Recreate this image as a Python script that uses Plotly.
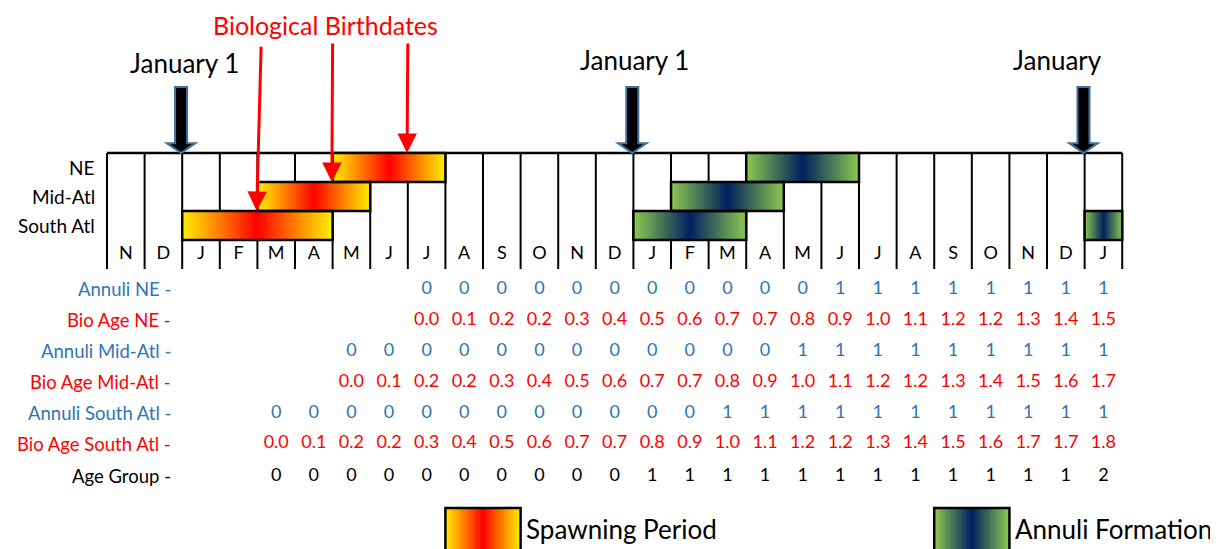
import numpy as np
import plotly.graph_objects as go

# month columns, one per cell of the timeline
months = ['N', 'D', 'J', 'F', 'M', 'A', 'M', 'J', 'J', 'A', 'S', 'O', 'N', 'D',
          'J', 'F', 'M', 'A', 'M', 'J', 'J', 'A', 'S', 'O', 'N', 'D', 'J']
regions = ['NE', 'Mid-Atl', 'South Atl']

# bars: (row, first column, column after last)
spawn_bars = [(0, 6, 9), (1, 4, 7), (2, 2, 6)]
annuli_bars = [(0, 17, 20), (1, 15, 18), (2, 14, 17), (2, 26, 27)]

january_cols = [2, 14, 26]
january_labels = ['January 1', 'January 1', 'January']
# biological birthdates: column of the arrow tip and row it points to
birth_cols = [4, 6, 8]
birth_rows = [2, 1, 0]

# table below the timeline
annuli_ne = [0, 0, 0, 0, 0, 0, 0, 0, 0, 0, 0, 1, 1, 1, 1, 1, 1, 1, 1]
bio_ne = [0.0, 0.1, 0.2, 0.2, 0.3, 0.4, 0.5, 0.6, 0.7, 0.7, 0.8, 0.9, 1.0, 1.1,
          1.2, 1.2, 1.3, 1.4, 1.5]
annuli_mid = [0, 0, 0, 0, 0, 0, 0, 0, 0, 0, 0, 0, 1, 1, 1, 1, 1, 1, 1, 1, 1]
bio_mid = [0.0, 0.1, 0.2, 0.2, 0.3, 0.4, 0.5, 0.6, 0.7, 0.7, 0.8, 0.9, 1.0, 1.1,
           1.2, 1.2, 1.3, 1.4, 1.5, 1.6, 1.7]
annuli_south = [0, 0, 0, 0, 0, 0, 0, 0, 0, 0, 0, 0, 1, 1, 1, 1, 1, 1, 1, 1, 1, 1, 1]
bio_south = [0.0, 0.1, 0.2, 0.2, 0.3, 0.4, 0.5, 0.6, 0.7, 0.7, 0.8, 0.9, 1.0, 1.1,
             1.2, 1.2, 1.3, 1.4, 1.5, 1.6, 1.7, 1.7, 1.8]
age_group = [0, 0, 0, 0, 0, 0, 0, 0, 0, 0, 1, 1, 1, 1, 1, 1, 1, 1, 1, 1, 1, 1, 2]

BLUE = '#2E75B6'
RED = '#FF0000'
FONT = 'Lato'

table = [
    ('Annuli NE -', BLUE, 8, [str(v) for v in annuli_ne]),
    ('Bio Age NE -', RED, 8, [f'{v:.1f}' for v in bio_ne]),
    ('Annuli Mid-Atl -', BLUE, 6, [str(v) for v in annuli_mid]),
    ('Bio Age Mid-Atl -', RED, 6, [f'{v:.1f}' for v in bio_mid]),
    ('Annuli South Atl -', BLUE, 4, [str(v) for v in annuli_south]),
    ('Bio Age South Atl -', RED, 4, [f'{v:.1f}' for v in bio_south]),
    ('Age Group -', 'black', 4, [str(v) for v in age_group]),
]
table_y = [4.69, 5.76, 6.83, 7.90, 8.97, 10.03, 11.14]

spawn_scale = [[0, '#FF0000'], [0.5, '#FF7A00'], [1, '#FFEE00']]
annuli_scale = [[0, '#002060'], [1, '#8CC850']]

fig = go.Figure()


def gradient(x0, x1, y0, y1, scale):
    n = 80
    xs = np.linspace(x0, x1, n + 1)
    z = [np.abs(np.linspace(-1, 1, n))]
    fig.add_trace(go.Heatmap(x=xs, y=[y0, y1], z=z, colorscale=scale, zmin=0, zmax=1,
                             showscale=False, hoverinfo='skip'))
    fig.add_shape(type='rect', x0=x0, x1=x1, y0=y0, y1=y1, layer='above',
                  line=dict(color='black', width=2.5))


for row, c0, c1 in spawn_bars:
    gradient(c0, c1, row, row + 1, spawn_scale)
for row, c0, c1 in annuli_bars:
    gradient(c0, c1, row, row + 1, annuli_scale)

# legend swatches
gradient(9, 11, 12.24, 14.5, spawn_scale)
gradient(22, 24, 12.24, 14.5, annuli_scale)

# grid of the timeline
for b in range(len(months) + 1):
    fig.add_shape(type='line', x0=b, x1=b, y0=0, y1=4, layer='below',
                  line=dict(color='black', width=2))
fig.add_shape(type='line', x0=0, x1=len(months), y0=0, y1=0, layer='below',
              line=dict(color='black', width=2.5))

# month letters
fig.add_trace(go.Scatter(x=[i + 0.5 for i in range(len(months))], y=[3.5] * len(months),
                         mode='text', text=months, hoverinfo='skip',
                         textfont=dict(family=FONT, size=18, color='black')))

for i, r in enumerate(regions):
    fig.add_annotation(x=-0.27, y=i + 0.5, text=r, showarrow=False, xanchor='right',
                       font=dict(family=FONT, size=19, color='black'))

# table values
for (label, color, start, vals), y in zip(table, table_y):
    fig.add_trace(go.Scatter(x=[start + i + 0.5 for i in range(len(vals))], y=[y] * len(vals),
                             mode='text', text=vals, hoverinfo='skip',
                             textfont=dict(family=FONT, size=18, color=color)))
    fig.add_annotation(x=1.75, y=y, text=label, showarrow=False, xanchor='right',
                       font=dict(family=FONT, size=18.5, color=color))

# January arrows
for c, lab in zip(january_cols, january_labels):
    x = c - 0.03
    hw, HW = 0.16, 0.38
    yt, yb = -2.28, -0.34
    path = (f'M {x - hw},{yt} L {x + hw},{yt} L {x + hw},{yb} L {x + HW},{yb} '
            f'L {x},0 L {x - HW},{yb} L {x - hw},{yb} Z')
    fig.add_shape(type='path', path=path, fillcolor='black',
                  line=dict(color='#41719C', width=2))
fig.add_annotation(x=2.07, y=-3.1, text=january_labels[0], showarrow=False,
                   font=dict(family=FONT, size=26, color='black'))
fig.add_annotation(x=14.02, y=-3.2, text=january_labels[1], showarrow=False,
                   font=dict(family=FONT, size=26, color='black'))
fig.add_annotation(x=25.27, y=-3.2, text=january_labels[2], showarrow=False,
                   font=dict(family=FONT, size=26, color='black'))

# biological birthdates
fig.add_annotation(x=5.8, y=-4.4, text='Biological Birthdates', showarrow=False,
                   borderpad=0, font=dict(family=FONT, size=25, color=RED))
tails = [(4.1, -3.72), (6.0, -3.83), (8.0, -3.83)]
for c, r, (tx, ty) in zip(birth_cols, birth_rows, tails):
    fig.add_annotation(x=c - 0.02, y=r, ax=tx, ay=ty, axref='x', ayref='y', text='',
                       showarrow=True, arrowhead=2, arrowsize=1.3, arrowwidth=3,
                       arrowcolor=RED, standoff=0)

# legend labels
fig.add_annotation(x=11.1, y=12.95, text='Spawning Period', showarrow=False, xanchor='left',
                   font=dict(family=FONT, size=26, color='black'))
fig.add_annotation(x=24.1, y=12.95, text='Annuli Formation', showarrow=False, xanchor='left',
                   font=dict(family=FONT, size=26, color='black'))

# the page puts the figure 8px in from the corner, so ranges are shifted to match
fig.update_layout(
    width=1218, height=549,
    margin=dict(l=0, r=0, t=0, b=0),
    paper_bgcolor='white', plot_bgcolor='white',
    showlegend=False,
    xaxis=dict(range=[-2.633, 29.76], visible=False, fixedrange=True),
    yaxis=dict(range=[13.93, -5.0], visible=False, fixedrange=True),
)

fig.write_html('out.html')
